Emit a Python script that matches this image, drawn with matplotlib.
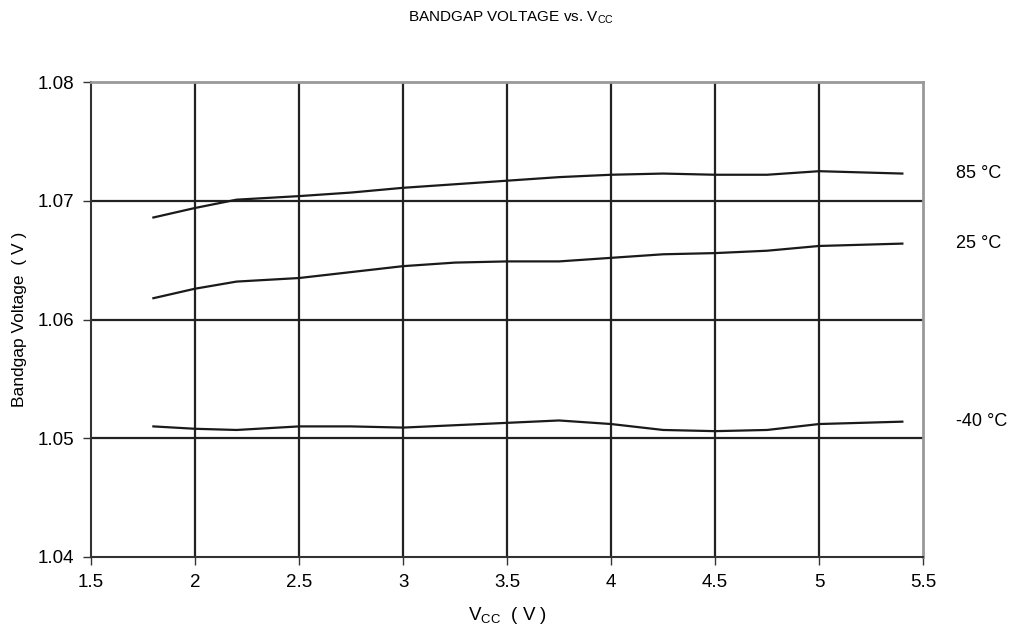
import matplotlib.pyplot as plt

plt.rcParams['font.family'] = ['Liberation Sans', 'DejaVu Sans']

# supply voltage (V)
vcc = [1.8, 2.0, 2.2, 2.5, 2.75, 3.0, 3.25, 3.5, 3.75, 4.0, 4.25, 4.5, 4.75, 5.0, 5.2, 5.4]

# bandgap voltage (V) per temperature
vbg_85 = [1.0686, 1.0694, 1.0701, 1.0704, 1.0707, 1.0711, 1.0714, 1.0717, 1.0720, 1.0722,
          1.0723, 1.0722, 1.0722, 1.0725, 1.0724, 1.0723]
vbg_25 = [1.0618, 1.0626, 1.0632, 1.0635, 1.0640, 1.0645, 1.0648, 1.0649, 1.0649, 1.0652,
          1.0655, 1.0656, 1.0658, 1.0662, 1.0663, 1.0664]
vbg_m40 = [1.0510, 1.0508, 1.0507, 1.0510, 1.0510, 1.0509, 1.0511, 1.0513, 1.0515, 1.0512,
           1.0507, 1.0506, 1.0507, 1.0512, 1.0513, 1.0514]

labels = ["85 °C", "25 °C", "-40 °C"]
series = [vbg_85, vbg_25, vbg_m40]

fig = plt.figure(figsize=(10.28, 6.32), dpi=100)
ax = fig.add_axes([0.0885, 0.1187, 0.8095, 0.7513])

for y, lab in zip(series, labels):
    ax.plot(vcc, y, color="#1a1a1a", linewidth=1.6)
    ax.text(5.66, y[-1], lab, fontsize=13, va="center", ha="left", clip_on=False)

ax.set_xlim(1.5, 5.5)
ax.set_ylim(1.04, 1.08)
ax.set_xticks([1.5, 2, 2.5, 3, 3.5, 4, 4.5, 5, 5.5])
ax.set_xticklabels(["1.5", "2", "2.5", "3", "3.5", "4", "4.5", "5", "5.5"])
ax.set_yticks([1.04, 1.05, 1.06, 1.07, 1.08])
ax.set_yticklabels(["1.04", "1.05", "1.06", "1.07", "1.08"])

for xv in [2, 2.5, 3, 3.5, 4, 4.5, 5]:
    ax.axvline(xv, color="#222222", linewidth=1.6, zorder=1)
for yv in [1.05, 1.06, 1.07]:
    ax.axhline(yv, color="#222222", linewidth=1.6, zorder=1)

ax.spines['left'].set_color("#333333")
ax.spines['bottom'].set_color("#333333")
ax.spines['left'].set_linewidth(1.5)
ax.spines['bottom'].set_linewidth(1.5)
ax.spines['top'].set_color("#999999")
ax.spines['right'].set_color("#999999")
ax.spines['top'].set_linewidth(2)
ax.spines['right'].set_linewidth(2)

ax.tick_params(direction="out", length=6, width=1, labelsize=13.5, color="#333333", pad=6)

ax.set_xlabel(r"V$_{\mathregular{CC}}$  ( V )", fontsize=13.5, labelpad=10)
ax.set_ylabel("Bandgap Voltage  ( V )", fontsize=12.5, labelpad=8)
fig.text(0.497, 0.972, r"BANDGAP VOLTAGE vs. V$_{\mathregular{CC}}$", fontsize=11,
         ha="center", va="center")

fig.savefig("out.png", dpi=100)
